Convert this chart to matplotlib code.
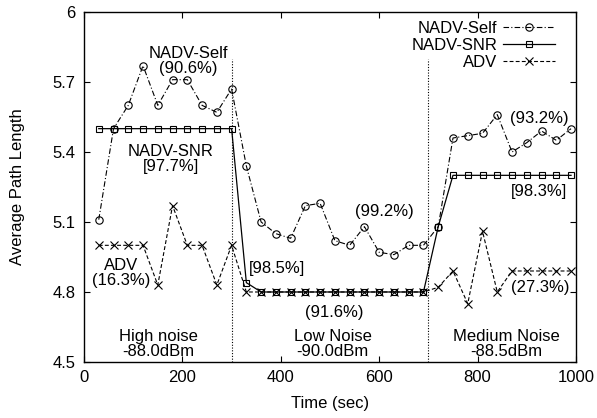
import matplotlib
matplotlib.use("Agg")
import matplotlib.pyplot as plt

plt.rcParams['font.family'] = ['Liberation Sans', 'DejaVu Sans']

# Sampling times (sec)
time_sec = list(range(30, 1000, 30))

nadv_self = [5.11, 5.50, 5.60, 5.77, 5.60, 5.71, 5.71, 5.60, 5.57, 5.67,
             5.34, 5.10, 5.05, 5.03, 5.17, 5.18, 5.02, 5.00, 5.08, 4.97,
             4.96, 5.00, 5.00, 5.08, 5.46, 5.47, 5.48, 5.56, 5.40, 5.44,
             5.49, 5.45, 5.50]
nadv_snr = [5.50] * 10 + [4.84] + [4.80] * 12 + [5.08] + [5.30] * 9
adv = [5.00, 5.00, 5.00, 5.00, 4.83, 5.17, 5.00, 5.00, 4.83, 5.00,
       4.80] + [4.80] * 12 + [4.82, 4.89, 4.75, 5.06, 4.80] + [4.89] * 5

phase_bounds = [300, 700]
x_ticks = [0, 200, 400, 600, 800, 1000]
y_ticks = [4.5, 4.8, 5.1, 5.4, 5.7, 6.0]
y_tick_labels = ["4.5", "4.8", "5.1", "5.4", "5.7", "6"]

fig = plt.figure(figsize=(5.97, 4.18), dpi=100)
ax = fig.add_axes([0.1407, 0.134, 0.8241, 0.8373])

ax.plot(time_sec, nadv_self, color='black', lw=0.8, dashes=(5, 2, 1, 2),
        marker='o', ms=5.3, mfc='none', mec='black', mew=0.8, label='NADV-Self')
ax.plot(time_sec, nadv_snr, color='black', lw=0.9, linestyle='-',
        marker='s', ms=4.7, mfc='none', mec='black', mew=0.8, label='NADV-SNR')
ax.plot(time_sec, adv, color='black', lw=0.8, dashes=(3.5, 2),
        marker='x', ms=5.4, mec='black', mew=0.8, label='ADV')

for xb in phase_bounds:
    ax.plot([xb, xb], [4.5, 5.8], color='black', lw=0.8, linestyle=(0, (1, 1.5)))

fs = 12

ax.set_xlim(0, 1000)
ax.set_ylim(4.5, 6.0)
ax.set_xticks(x_ticks)
ax.set_yticks(y_ticks)
ax.set_yticklabels(y_tick_labels)
ax.tick_params(direction='in', length=4, width=0.8, top=True, right=True,
               labelsize=fs, pad=6)
for s in ax.spines.values():
    s.set_linewidth(1.0)

ax.set_xlabel("Time (sec)", fontsize=fs, labelpad=8)
ax.set_ylabel("Average Path Length", fontsize=fs, labelpad=20)

ax.text(212, 5.79, "NADV-Self\n(90.6%)", ha='center', va='center', fontsize=fs, linespacing=1.0)
ax.text(176, 5.37, "NADV-SNR\n[97.7%]", ha='center', va='center', fontsize=fs, linespacing=1.0)
ax.text(75, 4.88, "ADV\n(16.3%)", ha='center', va='center', fontsize=fs, linespacing=1.0)
ax.text(336, 4.90, "[98.5%]", ha='left', va='center', fontsize=fs)
ax.text(508, 4.71, "(91.6%)", ha='center', va='center', fontsize=fs)
ax.text(610, 5.145, "(99.2%)", ha='center', va='center', fontsize=fs)
ax.text(925, 5.545, "(93.2%)", ha='center', va='center', fontsize=fs)
ax.text(925, 5.23, "[98.3%]", ha='center', va='center', fontsize=fs)
ax.text(928, 4.82, "(27.3%)", ha='center', va='center', fontsize=fs)
ax.text(152, 4.577, "High noise\n-88.0dBm", ha='center', va='center', fontsize=fs, linespacing=1.0)
ax.text(505, 4.577, "Low Noise\n-90.0dBm", ha='center', va='center', fontsize=fs, linespacing=1.0)
ax.text(859, 4.577, "Medium Noise\n-88.5dBm", ha='center', va='center', fontsize=fs, linespacing=1.0)

ax.legend(loc='upper right', bbox_to_anchor=(0.957, 0.975), frameon=False,
          markerfirst=False, fontsize=fs, handlelength=3.1, handletextpad=0.36,
          labelspacing=0.12, borderaxespad=0, borderpad=0, numpoints=1)

fig.savefig("out.png", dpi=100)
